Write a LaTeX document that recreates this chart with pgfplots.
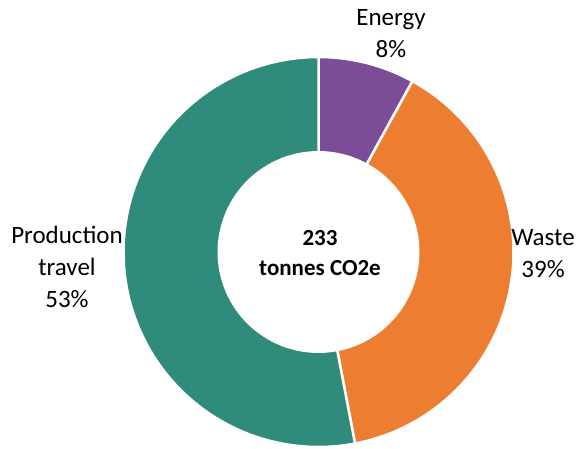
\documentclass[border=0pt]{standalone}
\usepackage{pgfplots}
\usepackage{pgfplotstable}
\usepackage{fontspec}
\setmainfont{Carlito}
\pgfplotsset{compat=1.18}
\definecolor{cteal}{HTML}{2F8C7D}
\definecolor{cpurple}{HTML}{7A4D96}
\definecolor{corange}{HTML}{ED7D31}
\pgfplotstableread{
label value
Energy 8
Waste 39
Production 53
}\shares
\pgfplotstablegetelem{0}{value}\of\shares \let\vE\pgfplotsretval
\pgfplotstablegetelem{1}{value}\of\shares \let\vW\pgfplotsretval
\pgfplotstablegetelem{2}{value}\of\shares \let\vP\pgfplotsretval
\pgfmathsetmacro{\aA}{90}
\pgfmathsetmacro{\aB}{90-3.6*\vE}
\pgfmathsetmacro{\aC}{\aB-3.6*\vW}
\pgfmathsetmacro{\aD}{\aC-3.6*\vP}
\def\cx{318.5}
\def\cy{196}
\def\R{195}
\def\r{101}
\tikzset{lab/.style={anchor=base, inner sep=0pt, font=\fontsize{25}{32}\selectfont},
         ctr/.style={anchor=base, inner sep=0pt, font=\fontsize{23}{30}\selectfont\bfseries}}
\begin{document}
\begin{tikzpicture}
\begin{axis}[
  x=1pt, y=1pt,
  xmin=0, xmax=577, ymin=0, ymax=448,
  hide axis, clip=false,
]
\path (axis cs:0,0) rectangle (axis cs:577,448);
\addplot[fill=cpurple, draw=white, line width=2.5pt, domain=\aB:\aA, samples=40, variable=\t]
  ({\cx+\R*cos(\t)},{\cy+\R*sin(\t)}) -- (axis cs:\cx,\cy) -- cycle;
\addplot[fill=corange, draw=white, line width=2.5pt, domain=\aC:\aB, samples=120, variable=\t]
  ({\cx+\R*cos(\t)},{\cy+\R*sin(\t)}) -- (axis cs:\cx,\cy) -- cycle;
\addplot[fill=cteal, draw=white, line width=2.5pt, domain=\aD:\aC, samples=150, variable=\t]
  ({\cx+\R*cos(\t)},{\cy+\R*sin(\t)}) -- (axis cs:\cx,\cy) -- cycle;
\addplot[fill=white, draw=none, domain=0:360, samples=120, variable=\t]
  ({\cx+\r*cos(\t)},{\cy+\r*sin(\t)}) -- cycle;
% labels
\node[lab] at (axis cs:391,422) {Energy};
\node[lab] at (axis cs:391,390) {8\%};
\node[lab] at (axis cs:543,203) {Waste};
\node[lab] at (axis cs:543,171) {39\%};
\node[lab] at (axis cs:67,205) {Production};
\node[lab] at (axis cs:67,173) {travel};
\node[lab] at (axis cs:67,141) {53\%};
\node[ctr] at (axis cs:320,203) {233};
\node[ctr] at (axis cs:320,173) {tonnes CO2e};
\end{axis}
\end{tikzpicture}
\end{document}
